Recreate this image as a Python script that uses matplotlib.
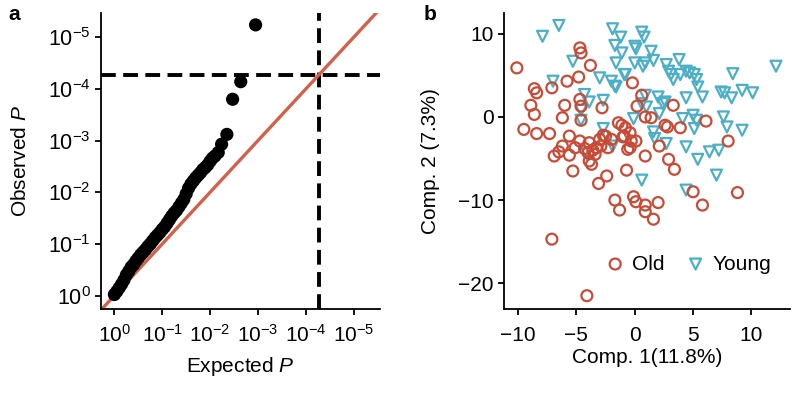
import matplotlib
matplotlib.use("Agg")
import matplotlib.pyplot as plt

plt.rcParams['font.family'] = ['Liberation Sans', 'DejaVu Sans']
plt.rcParams['mathtext.fontset'] = 'custom'
plt.rcParams['mathtext.rm'] = 'Liberation Sans'
plt.rcParams['mathtext.it'] = 'Liberation Sans:italic'
plt.rcParams['mathtext.bf'] = 'Liberation Sans:bold'
plt.rcParams['axes.unicode_minus'] = True

# ---------------- Panel a: QQ plot (-log10 P) ----------------
expected_nlog = [0.00, 0.05, 0.10, 0.15, 0.20, 0.25, 0.30, 0.35, 0.40, 0.45,
                 0.50, 0.55, 0.60, 0.65, 0.70, 0.75, 0.80, 0.85, 0.90, 0.95,
                 1.00, 1.05, 1.10, 1.15, 1.20, 1.25, 1.30, 1.35, 1.40, 1.45,
                 1.50, 1.55, 1.60, 1.65, 1.70, 1.75, 1.80, 1.85, 1.90, 1.95,
                 2.00, 2.05, 2.10, 2.17, 2.24, 2.35, 2.47, 2.64, 2.95]
observed_nlog = [0.02, 0.08, 0.15, 0.22, 0.30, 0.40, 0.47, 0.55, 0.60, 0.67,
                 0.73, 0.79, 0.84, 0.89, 0.95, 1.00, 1.06, 1.12, 1.17, 1.22,
                 1.28, 1.33, 1.40, 1.47, 1.54, 1.60, 1.65, 1.72, 1.79, 1.86,
                 1.97, 2.08, 2.16, 2.22, 2.28, 2.33, 2.38, 2.44, 2.48, 2.53,
                 2.60, 2.66, 2.70, 2.77, 2.93, 3.12, 3.80, 4.14, 5.24]
threshold_nlog = 4.27
qq_ticks = [0, 1, 2, 3, 4, 5]
qq_ticklabels = [r'$10^{0}$', r'$10^{-1}$', r'$10^{-2}$', r'$10^{-3}$',
                 r'$10^{-4}$', r'$10^{-5}$']

# ---------------- Panel b: PCA ----------------
old_x = [-10.1, -8.6, -8.4, -7.1, -8.9, -8.6, -9.5, -8.4, -7.3,
         -5.8, -4.8, -4.7, -4.6, -3.8, -6.0, -4.7, -4.6, -6.2, -4.6,
         -5.6, -4.7, -6.2, -6.5, -6.9, -5.6, -5.1, -5.3,
         -3.9, -4.0, -3.9, -3.7, -3.3, -3.0, -2.9, -2.5, -2.3,
         -3.1, -2.4, -2.8, -2.7, -1.4, -1.1, -0.9, -0.8, -0.6,
         -0.3, -0.4, 0.1, -0.2, 0.2, 0.6, 0.9, 1.4, 0.9, -0.7,
         -1.7, -1.3, -0.1, 0.1, 0.9, 0.9, 2.0, 1.6,
         2.1, 2.6, 2.8, 2.9, 3.4, 3.3, 3.9, 5.0, 5.8, 6.1,
         8.0, 8.8, -7.1, -4.1, -3.4, -2.0, -1.0, -0.4, -3.6, -4.3]
old_y = [5.9, 3.4, 2.9, 3.5, 1.4, 0.3, -1.5, -2.0, -2.0,
         4.3, 4.8, 8.3, 7.7, 6.2, 1.4, 2.1, 1.3, -0.1, -0.4,
         -2.3, -2.9, -3.5, -4.2, -4.7, -4.6, -3.7, -6.5,
         -3.1, -4.3, -5.3, -5.7, -3.7, -2.7, -3.5, -2.3, -3.7,
         -8.0, -7.1, 1.1, -2.2, -0.7, -1.0, -2.3, -1.3, -3.9,
         -2.9, -3.7, -2.9, 4.1, 1.3, 2.6, 0.0, -0.1, -4.7, -6.4,
         -10.0, -11.2, -9.6, -10.2, -10.6, -11.4, -10.3, -12.3,
         -3.5, -1.0, -1.2, -5.1, -6.3, 1.4, -1.3, -9.0, -10.6, -0.5,
         -2.9, -9.1, -14.7, -21.5, -4.5, -2.7, -2.4, -1.9, -4.0, -3.8]
young_x = [-7.9, -6.5, -5.3, -7.0, -4.3, -3.9, -2.7, -4.6, -4.6, -3.0, -2.0, -1.7, -1.6, -0.9, -2.7,
           -1.9, -1.2, -1.7, -1.1, -1.6, -0.8, 0.6, 0.8, 0.0, 0.1, 1.4, 1.6, 0.9, 0.0, 0.7,
           2.7, 3.8, 2.9, 3.3, 3.9, 4.4, 4.7, 5.1, 5.3, 5.4, 5.8, 4.4, 8.4, 12.1,
           7.4, 7.7, 8.3, 9.2, 10.1, 7.6, 7.9, 9.2, 5.0, 5.3, 5.1, 4.1,
           0.9, 0.6, 1.0, 2.0, 2.6, 2.1, -0.1, 1.6, 1.7, 2.7, 4.4, 6.4, 7.2, 5.4,
           0.6, 4.4, 7.0, -4.1, -1.9, 3.1, 2.4]
young_y = [9.7, 11.0, 6.7, 4.3, 2.7, 1.8, 2.0, 0.8, -0.4, 4.7, 4.3, 3.7, 3.6, 5.1, -1.4,
           10.6, 9.6, 8.6, 7.7, 6.5, 5.1, 10.2, 9.6, 8.5, 8.2, 7.9, 6.8, 6.5, 6.5, 6.1,
           6.3, 6.9, 5.5, 4.5, 5.1, 5.5, 5.3, 5.1, 4.5, 3.6, 2.4, 2.3, 5.2, 6.1,
           3.0, 2.9, 2.3, 3.2, 2.9, 0.0, -1.2, -1.6, 0.2, -0.4, -1.4, -0.2,
           2.6, 1.6, 1.2, 2.4, 1.8, 0.4, -0.2, -1.8, -2.6, -3.2, -3.6, -4.2, -4.0, -5.1,
           -7.6, -8.8, -7.0, -4.4, -3.5, 5.1, 1.6]
groups = ['Old', 'Young']

red = '#C94B36'
cyan = '#4AAFC7'
line_red = '#D2604B'

fig = plt.figure(figsize=(8.0, 3.96), dpi=100)

W, H = 800.0, 396.0
axa = fig.add_axes([101 / W, (H - 309) / H, (380 - 101) / W, (309 - 13) / H])
axb = fig.add_axes([504 / W, (H - 309) / H, (790 - 504) / W, (309 - 13) / H])

fs_tick = 15
fs_lab = 15

for ax in (axa, axb):
    for s in ('top', 'right'):
        ax.spines[s].set_visible(False)
    for s in ('left', 'bottom'):
        ax.spines[s].set_linewidth(1.3)
    ax.tick_params(direction='out', length=4.5, width=1.3, labelsize=fs_tick, pad=3)

# Panel a
axa.set_xlim(-0.28, 5.55)
axa.set_ylim(-0.26, 5.47)
axa.axline((0, 0), slope=1, color=line_red, lw=2.4, zorder=2)
axa.axhline(threshold_nlog, color='black', lw=2.8, linestyle=(0, (3.8, 1.9)), zorder=1)
axa.axvline(threshold_nlog, color='black', lw=2.8, linestyle=(0, (3.8, 1.9)), zorder=1)
axa.scatter(expected_nlog, observed_nlog, s=90, color='black', edgecolors='none', zorder=3)
axa.set_xticks(qq_ticks)
axa.set_xticklabels(qq_ticklabels)
axa.set_yticks(qq_ticks)
axa.set_yticklabels(qq_ticklabels, fontsize=15.5)
axa.tick_params(axis='x', pad=6)
axa.set_xlabel(r'Expected $P$', fontsize=fs_lab, labelpad=7)
axa.set_ylabel(r'Observed $P$', fontsize=fs_lab, labelpad=13)

# Panel b
axb.set_xlim(-11.2, 13.3)
axb.set_ylim(-23.1, 12.5)
axb.scatter(old_x, old_y, s=62, marker='o', facecolors='none', edgecolors=red,
            linewidths=1.6, label=groups[0], zorder=3)
axb.scatter(young_x, young_y, s=62, marker='v', facecolors='none', edgecolors=cyan,
            linewidths=1.6, label=groups[1], zorder=2)
axb.set_xticks([-10, -5, 0, 5, 10])
axb.set_yticks([-20, -10, 0, 10])
axb.tick_params(axis='x', pad=8)
axb.set_xlabel('Comp. 1(11.8%)', fontsize=fs_lab, labelpad=2)
axb.set_ylabel('Comp. 2 (7.3%)', fontsize=fs_lab, labelpad=13)
leg = axb.legend(loc='center', bbox_to_anchor=(0.643, 0.152), ncol=2, frameon=False,
                 fontsize=fs_lab, handletextpad=0.3, columnspacing=1.0,
                 handlelength=1.0, borderaxespad=0.0, borderpad=0.0)

fig.text(14 / W, 1 - 15 / H, 'a', fontsize=15, fontweight='bold', ha='center', va='center')
fig.text(430 / W, 1 - 15 / H, 'b', fontsize=15, fontweight='bold', ha='center', va='center')

fig.savefig('out.png', dpi=100)
